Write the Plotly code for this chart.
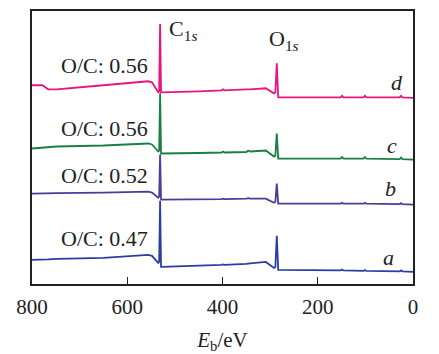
import plotly.graph_objects as go

# Binding energy grid (eV)
energy = [800, 778, 766, 748, 650, 556, 548, 535, 533, 531, 529, 527, 450, 402, 399, 396,
          350, 346, 342, 309, 292, 289, 286, 283, 277, 152, 149, 146, 104, 101, 98, 28, 25, 22, 0]

# Intensities (a.u., offset spectra)
int_d = [198, 198, 194, 194, 198, 202, 201, 191, 192, 259, 191, 191, 192, 193, 194, 193,
         194, 194, 194, 195, 190, 191, 220, 186, 186, 186, 187.5, 186, 186, 187.5, 186, 186, 187.5, 186, 185.5]
int_c = [135, 136, 136, 137, 138, 140, 139, 132, 133, 190, 130, 130, 130.5, 131, 132, 131,
         131.5, 133, 132, 133, 127, 128, 150, 125, 125, 125, 126.5, 125, 125, 126.5, 125, 124.5, 126, 124.5, 124]
int_b = [90, 90, 90.5, 90.5, 91, 92, 91, 86, 87, 129, 84, 84, 84, 84.5, 85, 84.5,
         85, 85.5, 85, 85, 81, 82, 100, 80, 80, 80, 80.8, 80, 80, 80.8, 80, 79.5, 80.5, 79.5, 79]
int_a = [24, 24, 24.5, 25, 26, 29, 28, 21, 22, 83, 17, 17, 18, 19, 19.5, 19,
         20, 20.5, 20.5, 22, 16, 17, 48, 14, 14, 13.5, 14.3, 13.5, 13, 13.8, 13, 12.5, 13.5, 12.5, 12]

series = [("a", int_a, "#2a3ea6"), ("b", int_b, "#4b3c9c"),
          ("c", int_c, "#1a7f45"), ("d", int_d, "#e8157f")]

oc_labels = ["O/C: 0.47", "O/C: 0.52", "O/C: 0.56", "O/C: 0.56"]
oc_y = [45, 108, 155, 218]
letter_y = [26, 95, 138, 201]
letter_x = [52, 48, 44, 34]

fig = go.Figure()
for name, ys, col in series:
    fig.add_trace(go.Scatter(x=energy, y=ys, mode="lines", name=name,
                             line=dict(color=col, width=1.8), showlegend=False))

font = "Liberation Serif, Times New Roman, serif"
anns = []
for lab, y in zip(oc_labels, oc_y):
    anns.append(dict(x=552, y=y, text=lab, xanchor="right", yanchor="middle",
                     showarrow=False, font=dict(family=font, size=22, color="#222")))
for (name, _, _), x, y in zip(series, letter_x, letter_y):
    anns.append(dict(x=x, y=y, text="<i>%s</i>" % name, xanchor="center", yanchor="middle",
                     showarrow=False, font=dict(family=font, size=22, color="#222")))
anns.append(dict(x=516, y=253, text="C<sub>1<i>s</i></sub>", xanchor="left", yanchor="middle",
                 showarrow=False, font=dict(family=font, size=22, color="#222")))
anns.append(dict(x=306, y=243, text="O<sub>1<i>s</i></sub>", xanchor="left", yanchor="middle",
                 showarrow=False, font=dict(family=font, size=22, color="#222")))

fig.update_layout(
    width=439, height=354,
    margin=dict(l=32, r=26, t=11, b=70),
    paper_bgcolor="white", plot_bgcolor="white",
    annotations=anns,
    xaxis=dict(range=[800, 0], tickvals=[800, 600, 400, 200, 0],
               ticks="inside", ticklen=7, tickwidth=1.2, tickcolor="#222",
               showline=True, linecolor="#222", linewidth=1.5, mirror=True,
               showgrid=False, zeroline=False, automargin=False, ticklabelstandoff=3,
               tickfont=dict(family=font, size=21, color="#222"),
               title=dict(text="<i>E</i><sub>b</sub>/eV", standoff=18,
                          font=dict(family=font, size=21, color="#222"))),
    yaxis=dict(range=[0, 272], showticklabels=False, ticks="", automargin=False,
               showline=True, linecolor="#222", linewidth=1.5, mirror=True,
               showgrid=False, zeroline=False),
)

fig.write_html("out.html")
